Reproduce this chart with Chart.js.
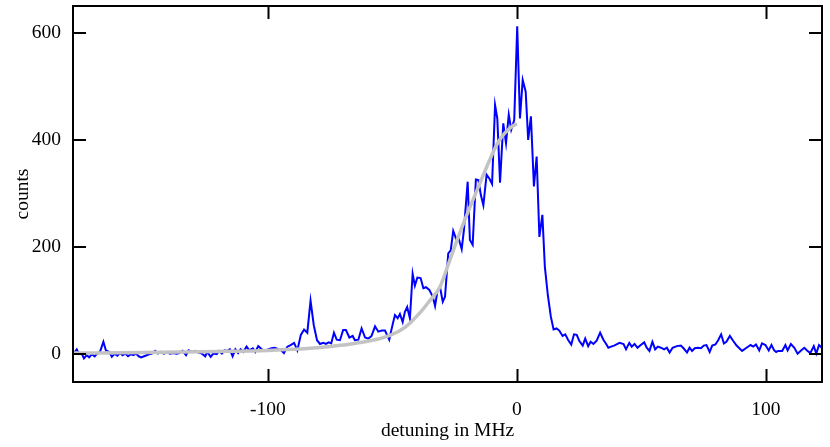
<!DOCTYPE html>
<html>
<head>
<meta charset="utf-8">
<title>detuning scan</title>
<script src="https://cdn.jsdelivr.net/npm/chart.js@4/dist/chart.umd.min.js"></script>
<style>
  html, body { margin: 0; padding: 0; background: #fff; }
  #wrap { width: 830px; height: 447px; position: relative; }
</style>
</head>
<body>
<div id="wrap"><canvas id="scan"></canvas></div>
<script>
// measured spectrum: detuning (MHz) and counts
const detuning = [
  -177.9, -176.8, -175.8, -174.8, -173.9, -172.8, -171.8, -170.7, -169.6, -168.6,
  -167.5, -166.1, -165.1, -163.7, -162.7, -161.6, -160.5, -159.4, -158.4, -157.3,
  -156.2, -155.1, -154.1, -153.0, -151.9, -150.9, -149.8, -148.7, -147.7, -146.6,
  -145.3, -144.2, -143.1, -141.8, -140.4, -139.4, -138.0, -136.7, -135.6, -134.3,
  -132.9, -131.9, -130.5, -129.2, -127.8, -126.5, -125.2, -124.4, -123.0, -122.0,
  -120.6, -119.6, -118.5, -117.4, -116.3, -115.3, -114.2, -113.1, -112.0, -111.0,
  -109.9, -108.6, -107.5, -106.1, -105.1, -103.9, -102.5, -101.2, -99.9, -98.6,
  -97.4, -96.2, -94.9, -93.6, -92.2, -90.9, -89.5, -88.2, -86.8, -85.5,
  -84.2, -82.9, -81.6, -80.3, -79.1, -77.8, -76.7, -75.6, -74.6, -73.5,
  -72.4, -71.1, -69.8, -68.7, -67.3, -66.0, -65.1, -63.7, -62.4, -61.0,
  -59.7, -58.4, -57.0, -55.7, -54.3, -53.0, -51.3, -49.9, -49.0, -47.9,
  -47.0, -45.9, -45.0, -44.1, -43.0, -41.9, -41.0, -40.0, -38.7, -37.6,
  -36.5, -35.2, -33.8, -32.9, -32.0, -30.9, -29.8, -28.9, -27.6, -26.6,
  -25.6, -24.5, -23.6, -22.2, -21.3, -19.8, -18.9, -17.8, -16.5, -15.5,
  -14.5, -13.5, -12.2, -11.1, -10.0, -8.8, -7.9, -6.8, -5.5, -4.4,
  -3.3, -2.3, -1.1, 0.1, 1.2, 2.3, 3.5, 4.5, 5.6, 6.8,
  7.9, 9.0, 10.2, 11.2, 12.4, 13.6, 14.7, 15.9, 17.0, 18.3,
  19.4, 20.5, 21.8, 22.9, 24.0, 25.0, 26.4, 27.4, 28.6, 29.6,
  30.7, 32.0, 33.4, 34.7, 35.7, 36.7, 37.8, 39.0, 41.2, 42.8,
  43.8, 45.1, 46.1, 47.2, 48.4, 49.7, 51.1, 52.1, 53.2, 54.4,
  55.5, 56.6, 57.8, 59.1, 60.2, 61.3, 62.5, 64.2, 65.8, 66.9,
  68.3, 69.3, 70.3, 71.4, 72.6, 73.9, 75.0, 76.1, 77.4, 78.4,
  79.7, 80.8, 82.0, 83.1, 84.1, 85.5, 86.8, 88.2, 90.4, 92.2,
  93.8, 94.9, 96.0, 97.3, 98.4, 99.8, 101.1, 102.2, 103.3, 104.1,
  104.9, 106.5, 107.8, 108.7, 110.0, 111.4, 112.7, 114.1, 115.4, 116.5,
  117.8, 119.2, 120.2, 121.3, 122.4, 123.2
];
const counts = [
  2, 9, 0, 1, -8, -2, -6, 0, -4, 1,
  4, 23, 7, 4, -5, 1, -3, 2, -2, 1,
  -4, 0, -2, 1, -4, -6, -4, -2, 0, 1,
  6, 1, 4, 1, 4, 1, 2, 1, 2, 6,
  -2, 7, 4, 6, 3, 1, -4, 4, -5, 1,
  0, 6, 1, 7, 6, 9, -4, 9, 2, 9,
  4, 14, 7, 11, 4, 15, 9, 7, 9, 11,
  12, 10, 8, 2, 14, 17, 21, 7, 36, 46,
  40, 100, 54, 26, 19, 21, 19, 22, 20, 40,
  27, 26, 45, 45, 31, 34, 26, 27, 48, 31,
  29, 34, 52, 42, 44, 44, 27, 56, 73, 67,
  75, 60, 79, 88, 67, 150, 128, 143, 142, 123,
  125, 120, 107, 90, 116, 125, 98, 107, 188, 194,
  230, 216, 219, 196, 232, 322, 213, 204, 326, 325,
  297, 278, 335, 328, 318, 465, 440, 320, 431, 394,
  447, 419, 437, 612, 440, 512, 490, 400, 444, 313,
  369, 219, 260, 163, 110, 70, 46, 48, 44, 34,
  37, 27, 18, 37, 36, 25, 16, 29, 15, 23,
  19, 25, 40, 27, 20, 12, 14, 16, 21, 19,
  9, 21, 14, 19, 12, 17, 22, 12, 6, 23,
  9, 14, 12, 9, 12, 3, 12, 15, 16, 11,
  3, 12, 6, 11, 12, 11, 16, 17, 4, 16,
  18, 26, 37, 20, 23, 34, 25, 16, 6, 12,
  17, 14, 18, 7, 20, 17, 7, 17, 7, 4,
  6, 6, 17, 7, 19, 12, 1, 7, 12, 7,
  2, 15, 1, 17, 12, 9
];

// fitted curve (grey)
const fitDetuning = [-178, -150, -120, -100, -90, -80, -70, -60, -51, -45, -39, -35, -31, -27, -23, -19, -15, -11, -8, -5, -2, 0];
const fitCounts   = [2, 3, 5, 7, 9, 12, 17, 24, 35, 50, 77, 100, 125, 175, 226, 273, 318, 362, 392, 412, 425, 430];

// axis ticks
const xTicks = [-100, 0, 100];
const yTicks = [0, 200, 400, 600];

const font = "'Liberation Serif', 'Times New Roman', serif";
const fontSize = 19.5;

function toPoints(xs, ys) {
  return xs.map((x, i) => ({ x: x, y: ys[i] }));
}

// frame around plot area with inward ticks on all four sides
const framePlugin = {
  id: 'frame',
  afterDraw(chart) {
    const { ctx, chartArea: a, scales } = chart;
    const tick = 13;
    ctx.save();
    ctx.strokeStyle = '#000';
    ctx.lineWidth = 2;
    ctx.strokeRect(a.left, a.top, a.right - a.left, a.bottom - a.top);
    ctx.beginPath();
    xTicks.forEach(v => {
      const px = Math.round(scales.x.getPixelForValue(v)) + 0.5;
      ctx.moveTo(px, a.bottom);
      ctx.lineTo(px, a.bottom - tick);
      ctx.moveTo(px, a.top);
      ctx.lineTo(px, a.top + tick);
    });
    yTicks.forEach(v => {
      const py = Math.round(scales.y.getPixelForValue(v));
      ctx.moveTo(a.left, py);
      ctx.lineTo(a.left + tick, py);
      ctx.moveTo(a.right, py);
      ctx.lineTo(a.right - tick, py);
    });
    ctx.stroke();
    ctx.restore();
  }
};

new Chart(document.getElementById('scan'), {
  type: 'line',
  data: {
    datasets: [
      {
        label: 'fit',
        data: toPoints(fitDetuning, fitCounts),
        borderColor: '#c3c3c3',
        borderWidth: 3.5,
        pointRadius: 0,
        cubicInterpolationMode: 'monotone',
        order: 0
      },
      {
        label: 'counts',
        data: toPoints(detuning, counts),
        borderColor: '#0000ff',
        borderWidth: 2,
        pointRadius: 0,
        tension: 0,
        order: 1
      }
    ]
  },
  options: {
    responsive: true,
    maintainAspectRatio: false,
    animation: false,
    layout: { padding: { top: 6, right: 8, left: 0, bottom: 0 } },
    plugins: {
      legend: { display: false },
      tooltip: { enabled: false }
    },
    scales: {
      x: {
        type: 'linear',
        min: -178.3,
        max: 122.5,
        afterFit: s => { s.height = 65; s.paddingLeft = 0; s.paddingRight = 0; },
        afterBuildTicks: s => { s.ticks = xTicks.map(v => ({ value: v })); },
        grid: { display: false, drawTicks: false },
        border: { display: false },
        ticks: {
          color: '#000',
          padding: 16,
          maxRotation: 0,
          font: { family: font, size: fontSize }
        },
        title: {
          display: true,
          text: 'detuning in MHz',
          color: '#000',
          padding: { top: 0, bottom: 4 },
          font: { family: font, size: fontSize }
        }
      },
      y: {
        min: -52,
        max: 650,
        afterFit: s => { s.width = 73; s.paddingTop = 0; s.paddingBottom = 0; },
        afterBuildTicks: s => { s.ticks = yTicks.map(v => ({ value: v })); },
        grid: { display: false, drawTicks: false },
        border: { display: false },
        ticks: {
          color: '#000',
          padding: 12,
          font: { family: font, size: fontSize }
        },
        title: {
          display: true,
          text: 'counts',
          color: '#000',
          padding: { top: 11, bottom: 0 },
          font: { family: font, size: fontSize }
        }
      }
    }
  },
  plugins: [framePlugin]
});
</script>
</body>
</html>
